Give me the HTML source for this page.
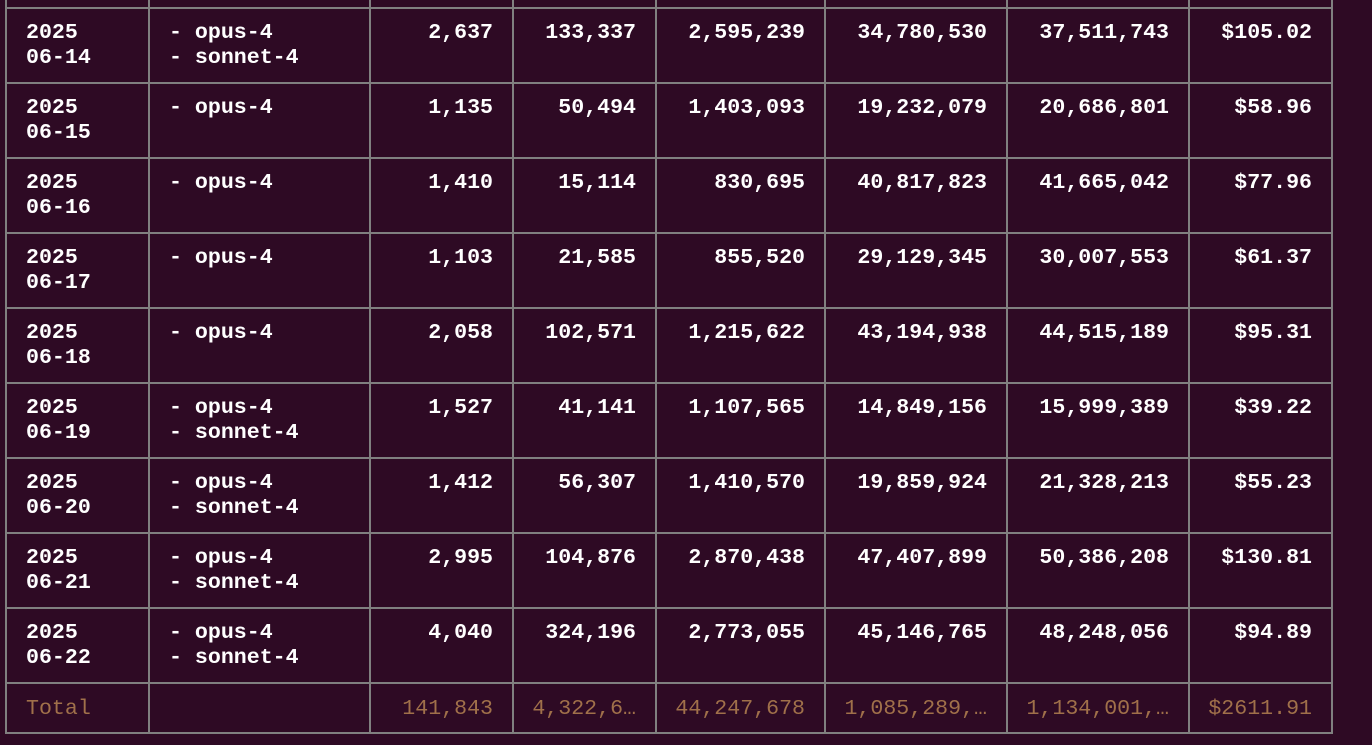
<!DOCTYPE html>
<html><head><meta charset="utf-8"><style>
html,body{margin:0;padding:0;background:#2e0a24;width:1372px;height:745px;overflow:hidden}
table{position:absolute;left:5px;top:-68px;border-collapse:collapse;table-layout:fixed;font-family:"Liberation Mono",monospace;font-size:21.6px;line-height:25px;color:#fff;font-weight:bold}
td{border:2px solid #808080;padding:12px 19px 0 19px;vertical-align:top;height:62px;box-sizing:border-box;white-space:pre;overflow:hidden}
tr.r td{height:75px}
td.n{text-align:right;padding-left:4px}
tr.t td{height:50px;padding-top:13px;color:#a0704a;font-weight:normal}
tr.d td{height:75px}
</style></head><body>
<table>
<colgroup><col style="width:143px"><col style="width:221px"><col style="width:143px"><col style="width:143px"><col style="width:169px"><col style="width:182px"><col style="width:182px"><col style="width:143px"></colgroup>
<tr class="d"><td></td><td></td><td></td><td></td><td></td><td></td><td></td><td></td></tr>
<tr class="r"><td>2025
06-14</td><td>- opus-4
- sonnet-4</td><td class="n">2,637</td><td class="n">133,337</td><td class="n">2,595,239</td><td class="n">34,780,530</td><td class="n">37,511,743</td><td class="n">$105.02</td></tr>
<tr class="r"><td>2025
06-15</td><td>- opus-4</td><td class="n">1,135</td><td class="n">50,494</td><td class="n">1,403,093</td><td class="n">19,232,079</td><td class="n">20,686,801</td><td class="n">$58.96</td></tr>
<tr class="r"><td>2025
06-16</td><td>- opus-4</td><td class="n">1,410</td><td class="n">15,114</td><td class="n">830,695</td><td class="n">40,817,823</td><td class="n">41,665,042</td><td class="n">$77.96</td></tr>
<tr class="r"><td>2025
06-17</td><td>- opus-4</td><td class="n">1,103</td><td class="n">21,585</td><td class="n">855,520</td><td class="n">29,129,345</td><td class="n">30,007,553</td><td class="n">$61.37</td></tr>
<tr class="r"><td>2025
06-18</td><td>- opus-4</td><td class="n">2,058</td><td class="n">102,571</td><td class="n">1,215,622</td><td class="n">43,194,938</td><td class="n">44,515,189</td><td class="n">$95.31</td></tr>
<tr class="r"><td>2025
06-19</td><td>- opus-4
- sonnet-4</td><td class="n">1,527</td><td class="n">41,141</td><td class="n">1,107,565</td><td class="n">14,849,156</td><td class="n">15,999,389</td><td class="n">$39.22</td></tr>
<tr class="r"><td>2025
06-20</td><td>- opus-4
- sonnet-4</td><td class="n">1,412</td><td class="n">56,307</td><td class="n">1,410,570</td><td class="n">19,859,924</td><td class="n">21,328,213</td><td class="n">$55.23</td></tr>
<tr class="r"><td>2025
06-21</td><td>- opus-4
- sonnet-4</td><td class="n">2,995</td><td class="n">104,876</td><td class="n">2,870,438</td><td class="n">47,407,899</td><td class="n">50,386,208</td><td class="n">$130.81</td></tr>
<tr class="r"><td>2025
06-22</td><td>- opus-4
- sonnet-4</td><td class="n">4,040</td><td class="n">324,196</td><td class="n">2,773,055</td><td class="n">45,146,765</td><td class="n">48,248,056</td><td class="n">$94.89</td></tr>
<tr class="t"><td>Total</td><td></td><td class="n">141,843</td><td class="n">4,322,6…</td><td class="n">44,247,678</td><td class="n">1,085,289,…</td><td class="n">1,134,001,…</td><td class="n">$2611.91</td></tr>
</table>
</body></html>
